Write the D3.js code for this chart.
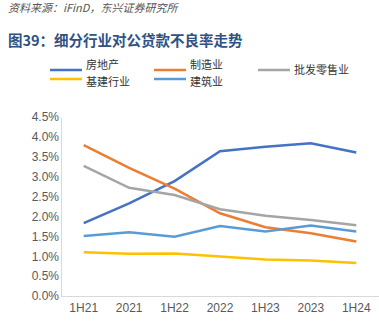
<!DOCTYPE html>
<html>
<head>
<meta charset="utf-8">
<script src="https://cdn.jsdelivr.net/npm/d3@7"></script>
<style>
  body { margin: 0; background: #fff; }
  text { font-family: "Liberation Sans", "Noto Sans CJK SC", sans-serif; }
  .line { fill: none; stroke-width: 2.5; }
</style>
</head>
<body>
<script>
// categories and series (NPL ratio, %)
var categories = ["1H21", "2021", "1H22", "2022", "1H23", "2023", "1H24"];
var realEstate    = [1.83, 2.33, 2.89, 3.64, 3.75, 3.84, 3.61];
var manufacturing = [3.79, 3.22, 2.70, 2.08, 1.73, 1.58, 1.37];
var wholesale     = [3.27, 2.72, 2.54, 2.18, 2.02, 1.91, 1.78];
var infra         = [1.10, 1.06, 1.07, 0.99, 0.92, 0.89, 0.83];
var construction  = [1.51, 1.60, 1.49, 1.76, 1.62, 1.77, 1.62];
var yTicks = [0, 0.5, 1, 1.5, 2, 2.5, 3, 3.5, 4, 4.5];

var series = [
    { name: "房地产", values: realEstate, color: "#4472C4" },
    { name: "制造业", values: manufacturing, color: "#ED7D31" },
    { name: "批发零售业", values: wholesale, color: "#A5A5A5" },
    { name: "基建行业", values: infra, color: "#FFC000" },
    { name: "建筑业", values: construction, color: "#5B9BD5" }
];

var width = 379, height = 325;
var svg = d3.select("body").append("svg")
    .attr("width", width)
    .attr("height", height);

// source + title
svg.append("text")
    .attr("x", 8).attr("y", 12)
    .attr("font-size", 11).attr("font-style", "italic")
    .attr("fill", "#555")
    .style("font-family", "'Noto Sans CJK SC', sans-serif")
    .text("资料来源：iFinD，东兴证券研究所");

svg.append("text")
    .attr("x", 8).attr("y", 46)
    .attr("font-size", 14.5).attr("font-weight", "bold")
    .attr("fill", "#2F5283")
    .style("font-family", "'Noto Sans CJK SC', sans-serif")
    .text("图39：细分行业对公贷款不良率走势");

var x = d3.scaleBand().domain(categories).range([61, 379]);
var y = d3.scaleLinear().domain([0, 4.5]).range([296, 117]);

// y axis
var yAxis = svg.append("g")
    .attr("transform", "translate(61,0)")
    .call(d3.axisLeft(y).tickValues(yTicks).tickSize(0).tickPadding(2)
        .tickFormat(function (d) { return d.toFixed(1) + "%"; }));
yAxis.select(".domain").attr("stroke", "#d9d9d9");
yAxis.selectAll("text").attr("font-size", 12).attr("fill", "#595959")
    .style("font-family", "'Liberation Sans', sans-serif");

// x axis
var xAxis = svg.append("g")
    .attr("transform", "translate(0,296)")
    .call(d3.axisBottom(x).tickSize(0).tickPadding(7));
xAxis.select(".domain").attr("stroke", "#d9d9d9");
xAxis.selectAll("text").attr("font-size", 12).attr("fill", "#595959")
    .style("font-family", "'Liberation Sans', sans-serif");

var line = d3.line()
    .x(function (d, i) { return x(categories[i]) + x.bandwidth() / 2; })
    .y(function (d) { return y(d); });

svg.selectAll(".line")
    .data(series)
    .enter()
    .append("path")
    .attr("class", "line")
    .attr("stroke", function (d) { return d.color; })
    .attr("d", function (d) { return line(d.values); });

// legend: two tight rows
var legendPos = [
    { x: 50, y: 70, dy: -1.5 }, { x: 154, y: 70, dy: -1.5 }, { x: 258, y: 70, dy: 4 },
    { x: 50, y: 79, dy: 6.5 }, { x: 154, y: 79, dy: 6.5 }
];
var legend = svg.selectAll(".legend")
    .data(series)
    .enter()
    .append("g")
    .attr("class", "legend")
    .attr("transform", function (d, i) {
        return "translate(" + legendPos[i].x + "," + legendPos[i].y + ")";
    });
legend.append("line")
    .attr("x1", 0).attr("x2", 32)
    .attr("stroke", function (d) { return d.color; })
    .attr("stroke-width", 2.5);
legend.append("text")
    .attr("x", 36)
    .attr("y", function (d, i) { return legendPos[i].dy; })
    .attr("font-size", 11).attr("fill", "#333")
    .style("font-family", "'Noto Sans CJK SC', sans-serif")
    .text(function (d) { return d.name; });
</script>
</body>
</html>
